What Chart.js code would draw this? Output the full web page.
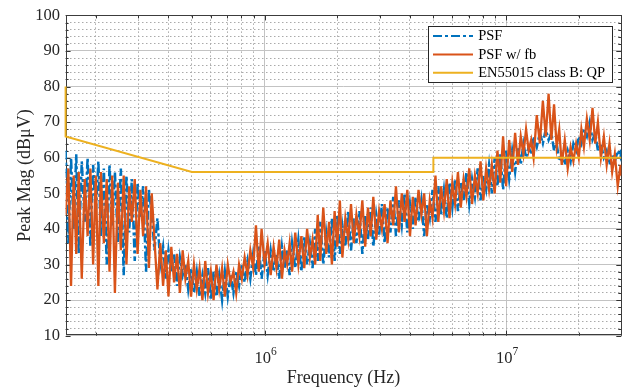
<!DOCTYPE html>
<html>
<head>
<meta charset="utf-8">
<script src="https://cdn.jsdelivr.net/npm/chart.js@4.4.0/dist/chart.umd.min.js"></script>
<style>
  html, body { margin: 0; padding: 0; background: #fff; }
  #wrap { width: 630px; height: 391px; }
</style>
</head>
<body>
<div id="wrap"><canvas id="emiChart" width="630" height="391"></canvas></div>
<script>
// frequency bins (kHz), shared by both measured traces
const freqKHz = [
  150,154,158,162,166,170,175,180,185,190, 195,200,205,210,216,222,228,234,240,247,
  254,261,268,275,282,290,298,306,314,323, 332,341,350,360,370,380,390,400,411,422,
  434,446,458,470,483,496,510,524,538,553, 568,583,599,615,632,649,667,685,704,723,
  743,763,784,805,827,850,873,897,921,946, 972,1000,
  1030,1060,1090,1120,1150,1180,1210,1240,1270,1300, 1340,1380,1420,1460,1500,1540,1580,1620,1660,1700,
  1750,1800,1850,1900,1950,2000,2050,2100,2160,2220, 2280,2340,2400,2470,2540,2610,2680,2750,2820,2900,
  2980,3060,3140,3230,3320,3410,3500,3600,3700,3800, 3900,4000,4110,4220,4340,4460,4580,4700,4830,4960,
  5100,5240,5380,5530,5680,5830,5990,6150,6320,6490, 6670,6850,7040,7230,7430,7630,7840,8050,8270,8500,
  8730,8970,9210,9460,9720,10000,
  10300,10600,10900,11200,11500,11800,12100,12400,12700,13000, 13400,13800,14200,14600,15000,15400,15800,16200,16600,17000,
  17500,18000,18500,19000,19500,20000,20500,21000,21600,22200, 22800,23400,24000,24700,25400,26100,26800,27500,28200,29000,
  29800,30000
];

// PSF (dBuV)
const magPsf = [
  62,36,60,40,61,33,59,42,60,35, 58,44,59,38,57,30,58,41,56,36,
  57,27,55,39,54,31,53,43,52,28, 51,44,34,43,30,35,26,34,28,33,
  24,32,27,30,23,29,22,28,21,27, 22,29,20,28,21,27,20,28,21,27,
  22,28,24,30,25,31,26,33,27,35, 26,34,
  27,34,28,33,26,35,29,34,27,36, 29,37,28,38,30,36,29,40,31,42,
  30,39,32,43,31,44,33,41,35,45, 34,43,36,45,33,44,37,46,35,44,
  38,47,36,46,39,49,38,48,41,50, 39,47,40,49,42,48,38,47,43,51,
  42,52,44,51,43,53,46,54,45,53, 48,56,47,54,49,57,48,55,51,58,
  50,60,52,61,51,62,
  54,62,56,63,58,64,60,63,61,66, 63,67,64,68,65,67,62,64,59,61,
  58,62,59,64,62,66,64,68,66,70, 65,67,62,64,60,62,58,61,59,62,
  60,63
];

// PSF w/ fb (dBuV)
const magPsfFb = [
  44,57,24,55,33,56,26,54,38,57, 30,55,24,56,36,54,28,55,22,53,
  34,55,30,52,42,54,33,51,38,52, 29,50,37,23,36,24,34,21,35,25,
  33,22,34,26,31,21,30,23,29,20, 31,22,28,20,30,23,29,21,30,25,
  28,22,30,26,32,27,34,29,41,28, 40,30,
  36,27,35,29,37,26,34,30,36,28, 39,30,38,29,40,32,37,30,44,31,
  46,33,42,30,45,35,48,32,43,37, 47,36,44,38,48,35,46,38,49,37,
  45,40,47,36,48,41,52,39,50,42, 51,38,49,41,51,44,50,38,48,43,
  55,42,52,45,54,43,53,47,56,46, 54,49,57,47,55,50,59,48,57,51,
  58,50,62,53,66,52,
  65,56,67,58,66,61,68,62,65,60, 72,64,76,66,78,65,75,63,68,58,
  65,57,63,59,64,60,68,63,71,65, 74,64,70,60,66,58,64,56,61,52,
  58,55
];

// EN55015 class B quasi-peak limit
const limitFreqKHz = [150, 150, 500, 5000, 5000, 30000];
const limitQP = [80, 66, 56, 56, 60, 60];

// axis ticks
const xLabelTicks = [1e6, 1e7];
const xGridTicks = [2e5, 3e5, 4e5, 5e5, 6e5, 7e5, 8e5, 9e5,
  1e6, 2e6, 3e6, 4e6, 5e6, 6e6, 7e6, 8e6, 9e6, 1e7, 2e7, 3e7];
const yGridTicks = [10, 12, 14, 16, 18, 20, 22, 24, 26, 28, 30, 32, 34, 36, 38, 40, 42, 44, 46, 48,
  50, 52, 54, 56, 58, 60, 62, 64, 66, 68, 70, 72, 74, 76, 78, 80, 82, 84, 86, 88, 90, 92, 94, 96, 98, 100];

const serif = "'Liberation Serif', 'Times New Roman', serif";
const textColor = '#262626';

function toPoints(fk, mags) {
  return fk.map((f, i) => ({ x: f * 1000, y: mags[i] }));
}

function isDecade(v) {
  return Math.abs(Math.log10(v) - Math.round(Math.log10(v))) < 1e-9;
}

// axes box + inward ticks, under the data like MATLAB's bottom layer
const axesBox = {
  id: 'axesBox',
  beforeDatasetsDraw(chart) {
    const { ctx, chartArea: a, scales } = chart;
    ctx.save();
    ctx.strokeStyle = 'rgb(50,50,50)';
    ctx.lineWidth = 1;
    ctx.beginPath();
    scales.x.ticks.forEach(t => {
      const px = Math.round(scales.x.getPixelForValue(t.value)) + 0.5;
      const len = isDecade(t.value) ? 5 : 3;
      ctx.moveTo(px, a.bottom); ctx.lineTo(px, a.bottom - len);
      ctx.moveTo(px, a.top); ctx.lineTo(px, a.top + len);
    });
    scales.y.ticks.forEach(t => {
      const py = Math.round(scales.y.getPixelForValue(t.value)) + 0.5;
      const len = t.value % 10 === 0 ? 5 : 3;
      ctx.moveTo(a.left, py); ctx.lineTo(a.left + len, py);
      ctx.moveTo(a.right, py); ctx.lineTo(a.right - len, py);
    });
    ctx.stroke();
    ctx.strokeStyle = 'rgb(60,60,60)';
    ctx.strokeRect(Math.round(a.left) + 0.5, Math.round(a.top) + 0.5,
      Math.round(a.width) - 1, Math.round(a.height) - 1);
    ctx.restore();
  }
};

const labelsAndLegend = {
  id: 'labelsAndLegend',
  afterDraw(chart) {
    const { ctx, chartArea: a, scales } = chart;
    ctx.save();

    // x tick labels as 10^n
    ctx.fillStyle = textColor;
    ctx.textBaseline = 'alphabetic';
    ctx.textAlign = 'left';
    xLabelTicks.forEach(v => {
      const px = scales.x.getPixelForValue(v);
      const exp = String(Math.round(Math.log10(v)));
      ctx.font = '16.5px ' + serif;
      const wBase = ctx.measureText('10').width;
      ctx.font = '11.5px ' + serif;
      const wExp = ctx.measureText(exp).width;
      const x0 = px - (wBase + wExp) / 2 + 1;
      ctx.font = '16.5px ' + serif;
      ctx.fillText('10', x0, a.bottom + 26.8);
      ctx.font = '11.5px ' + serif;
      ctx.fillText(exp, x0 + wBase, a.bottom + 19.5);
    });

    // legend inside the axes, upper right
    const bx = a.right - 193.6, by = a.top + 11, bw = 184.3, bh = 56.4;
    ctx.fillStyle = '#fff';
    ctx.fillRect(bx, by, bw, bh);
    ctx.strokeStyle = 'rgb(38,38,38)';
    ctx.lineWidth = 1;
    ctx.strokeRect(Math.round(bx) + 0.5, Math.round(by) + 0.5, Math.round(bw), Math.round(bh));
    ctx.font = '14.5px ' + serif;
    ctx.textBaseline = 'middle';
    chart.data.datasets.forEach((ds, i) => {
      const ry = by + 9.7 + i * 18.35;
      ctx.strokeStyle = ds.borderColor;
      ctx.lineWidth = 2;
      ctx.setLineDash(ds.borderDash || []);
      ctx.beginPath();
      ctx.moveTo(bx + 5.3, ry);
      ctx.lineTo(bx + 45.3, ry);
      ctx.stroke();
      ctx.setLineDash([]);
      ctx.fillStyle = '#000';
      ctx.fillText(ds.label, bx + 50.5, ry + 0.5);
    });
    ctx.restore();
  }
};

const ctx = document.getElementById('emiChart');

const chart = new Chart(ctx, {
  type: 'line',
  data: {
    datasets: [
      {
        label: 'PSF',
        data: toPoints(freqKHz, magPsf),
        borderColor: 'rgb(0,114,189)',
        borderWidth: 2.5,
        borderDash: [9, 3, 3, 3],
        order: 3
      },
      {
        label: 'PSF w/ fb',
        data: toPoints(freqKHz, magPsfFb),
        borderColor: 'rgb(217,83,25)',
        borderWidth: 2.3,
        order: 2
      },
      {
        label: 'EN55015 class B: QP',
        data: toPoints(limitFreqKHz, limitQP),
        borderColor: 'rgb(237,177,32)',
        borderWidth: 2,
        clip: { left: 3, top: 0, right: 0, bottom: 0 },
        order: 1
      }
    ]
  },
  options: {
    responsive: false,
    animation: false,
    devicePixelRatio: 1,
    elements: {
      point: { radius: 0, hoverRadius: 0 },
      line: { tension: 0, fill: false }
    },
    layout: { padding: { left: 0, right: 8.7, top: 13.3, bottom: 0 } },
    plugins: {
      legend: { display: false },
      tooltip: { enabled: false }
    },
    scales: {
      x: {
        type: 'logarithmic',
        position: 'bottom',
        min: 1.5e5,
        max: 3e7,
        afterBuildTicks: s => { s.ticks = xGridTicks.map(v => ({ value: v })); },
        afterFit: s => { s.height = 55.3; },
        ticks: { display: false, autoSkip: false },
        grid: {
          drawTicks: false,
          lineWidth: 1,
          color: c => isDecade(c.tick.value) ? 'rgb(195,195,195)' : 'rgb(170,170,170)'
        },
        border: {
          display: false,
          dash: c => isDecade(c.tick.value) ? [] : [1.5, 2.5]
        },
        title: {
          display: true,
          text: 'Frequency (Hz)',
          color: textColor,
          font: { family: serif, size: 18 },
          padding: { top: 0, bottom: 2.3 }
        }
      },
      y: {
        type: 'linear',
        position: 'left',
        min: 10,
        max: 100,
        afterBuildTicks: s => { s.ticks = yGridTicks.map(v => ({ value: v })); },
        afterFit: s => { s.width = 65.6; },
        ticks: {
          autoSkip: false,
          padding: 5.5,
          color: textColor,
          font: { family: serif, size: 16.5 },
          callback: v => (v % 10 === 0 ? String(v) : '')
        },
        grid: {
          drawTicks: false,
          lineWidth: 1,
          color: c => c.tick.value % 10 === 0 ? 'rgb(195,195,195)' : 'rgb(170,170,170)'
        },
        border: {
          display: false,
          dash: c => c.tick.value % 10 === 0 ? [] : [1.5, 2.5]
        },
        title: {
          display: true,
          text: 'Peak Mag (dBμV)',
          color: textColor,
          font: { family: serif, size: 18 },
          padding: { top: 14.8, bottom: 0 }
        }
      }
    }
  },
  plugins: [axesBox, labelsAndLegend]
});
</script>
</body>
</html>
